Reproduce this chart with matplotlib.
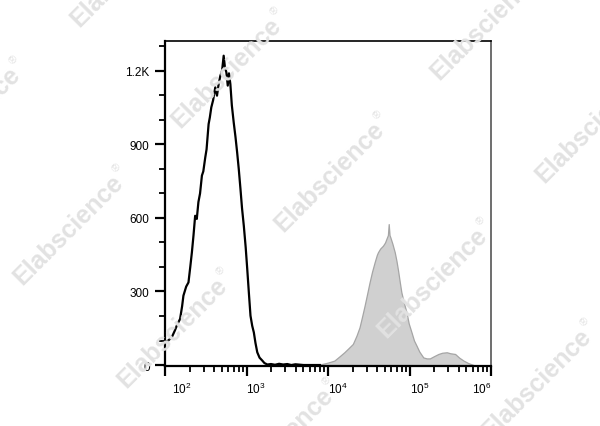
import numpy as np
import matplotlib
matplotlib.use('Agg')
import matplotlib.pyplot as plt
import matplotlib.transforms as mtransforms
from matplotlib.ticker import FixedLocator, LogLocator, NullFormatter

plt.rcParams['font.family'] = ['Liberation Sans', 'DejaVu Sans']
plt.rcParams['mathtext.fontset'] = 'custom'
plt.rcParams['mathtext.rm'] = 'Liberation Sans'
plt.rcParams['mathtext.it'] = 'Liberation Sans:italic'
plt.rcParams['mathtext.bf'] = 'Liberation Sans:bold'

###  DATA  ###

# unstained control (black outline), x as log10 of intensity
ctrl_logx = [1.95, 2.00, 2.04, 2.083, 2.12, 2.15, 2.185, 2.21, 2.226, 2.26, 2.288,
             2.31, 2.33, 2.35, 2.37, 2.39, 2.41, 2.43, 2.453, 2.47, 2.494, 2.51,
             2.535, 2.55, 2.568, 2.59, 2.617, 2.638, 2.658, 2.679, 2.70, 2.72,
             2.735, 2.753, 2.77, 2.785, 2.802, 2.82, 2.843, 2.865, 2.885, 2.905,
             2.926, 2.945, 2.967, 2.99, 3.009, 3.03, 3.049, 3.07, 3.09, 3.11,
             3.132, 3.16, 3.194, 3.22, 3.256, 3.30, 3.35, 3.40, 3.45, 3.50,
             3.55, 3.60, 3.70, 3.90]
ctrl_count = [85, 93, 100, 113, 140, 165, 188, 240, 283, 320, 337,
              400, 460, 530, 609, 596, 665, 700, 773, 790, 847, 880,
              983, 1010, 1051, 1080, 1133, 1099, 1146, 1180, 1200, 1262,
              1215, 1194, 1140, 1190, 1146, 1060, 990, 930, 868, 800,
              718, 640, 568, 480, 392, 290, 201, 160, 133, 90,
              52, 30, 18, 8, 2, 4, 1, 5, 2, 4,
              0, 3, 0, 0]

# stained sample (grey filled)
stain_logx = [3.85, 3.893, 3.95, 4.00, 4.078, 4.14, 4.20, 4.25, 4.305, 4.35,
              4.387, 4.42, 4.449, 4.48, 4.51, 4.54, 4.572, 4.60, 4.613, 4.64,
              4.675, 4.70, 4.716, 4.735, 4.745, 4.755, 4.765, 4.79, 4.819, 4.84,
              4.86, 4.88, 4.90, 4.93, 4.963, 4.99, 5.025, 5.055, 5.086, 5.12,
              5.169, 5.21, 5.25, 5.30, 5.354, 5.40, 5.457, 5.50, 5.56, 5.61,
              5.663, 5.72, 5.786]
stain_count = [0, 2, 6, 10, 18, 35, 52, 68, 86, 120,
               154, 200, 242, 290, 337, 380, 419, 450, 460, 475,
               487, 500, 514, 530, 575, 530, 521, 495, 460, 425,
               385, 340, 297, 255, 215, 170, 133, 100, 79, 55,
               31, 27, 27, 36, 45, 50, 52, 48, 45, 30,
               18, 8, 0]

ytick_vals = [0, 300, 600, 900, 1200]
ytick_labels = ['0', '300', '600', '900', '1.2K']
xtick_vals = [1e2, 1e3, 1e4, 1e5, 1e6]
xtick_labels = ['$10^{2}$', '$10^{3}$', '$10^{4}$', '$10^{5}$', '$10^{6}$']

# watermark centres in image pixels (x right, y down)
wm_x = [125, 226, 329, 432, 536, -35, 68, 172, 278, 485, 590]
wm_y = [-28, 73, 177, 283, 384, 122, 230, 333, 443, 25, 128]

###  PLOT  ###

W, H = 600, 427
fig = plt.figure(figsize=(W / 100, H / 100), dpi=100)
ax = fig.add_axes([165 / W, 1 - 367 / H, (491 - 165) / W, (367 - 42) / H])

ctrl_x = 10 ** np.array(ctrl_logx)
stain_x = 10 ** np.array(stain_logx)

ax.fill_between(stain_x, stain_count, 0, facecolor='#d0d0d0', edgecolor='#a5a5a5',
                linewidth=0.9, zorder=2)
ax.plot(ctrl_x, ctrl_count, color='black', linewidth=1.6, zorder=3)

ax.set_xscale('log')
ax.set_xlim(1e2, 1e6)
ax.set_ylim(-4, 1322)

ax.set_xticks(xtick_vals)
ax.set_xticklabels(xtick_labels)
ax.xaxis.set_minor_locator(LogLocator(base=10, subs=np.arange(2, 10)))
ax.xaxis.set_minor_formatter(NullFormatter())
ax.set_yticks(ytick_vals)
ax.set_yticklabels(ytick_labels)
ax.yaxis.set_minor_locator(FixedLocator([100, 200, 400, 500, 700, 800, 1000, 1100, 1300]))

ax.tick_params(axis='both', which='major', direction='out', length=7, width=1.6,
               labelsize=8.5, color='black')
ax.tick_params(axis='both', which='minor', direction='out', length=4, width=1.3)
ax.tick_params(axis='y', which='major', pad=4)
ax.tick_params(axis='x', which='major', pad=4)

for s in ['left', 'bottom']:
    ax.spines[s].set_linewidth(1.6)
ax.spines['top'].set_linewidth(1.2)
ax.spines['right'].set_linewidth(1.2)
ax.spines['right'].set_color('#555555')

# x labels sit to the right of their ticks, last one to the left
xl = ax.get_xticklabels()
for i, lbl in enumerate(xl):
    if i == len(xl) - 1:
        lbl.set_ha('right')
    else:
        lbl.set_ha('left')
xl[0].set_transform(xl[0].get_transform() +
                    mtransforms.ScaledTranslation(7 / 100, 0, fig.dpi_scale_trans))

# watermarks
ang = np.deg2rad(45)
for cx, cy in zip(wm_x, wm_y):
    fx, fy = cx / W, 1 - cy / H
    fig.text(fx, fy, 'Elabscience', rotation=45, rotation_mode='anchor',
             ha='center', va='center', fontsize=18, fontweight='bold',
             color='#e2e2e2', zorder=5)
    d, up = 78, 9
    rx = fx + (d * np.cos(ang) - up * np.sin(ang)) / W
    ry = fy + (d * np.sin(ang) + up * np.cos(ang)) / H
    fig.text(rx, ry, '\u00ae', rotation=45, rotation_mode='anchor',
             ha='center', va='center', fontsize=8, color='#e2e2e2', zorder=5)

fig.savefig('out.png', dpi=100)
